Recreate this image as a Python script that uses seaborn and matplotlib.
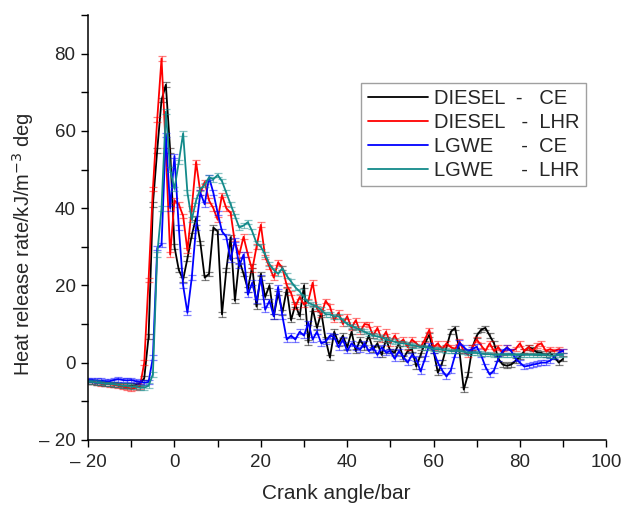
import numpy as np
import pandas as pd
import matplotlib
matplotlib.use("Agg")
import matplotlib.pyplot as plt
import seaborn as sns
from matplotlib.ticker import MultipleLocator, FixedLocator

# crank angle, one point per degree
crank_angle = list(range(-20, 91))

diesel_ce = [
    -5, -5, -5.2, -5.3, -5.5, -5.5, -5.6, -5.8, -6, -6, -6, -5.8, -5.5,      # -20..-8
    -4, 6.7, 41, 55, 68, 72, 55,                                              # -7..-1
    30, 24, 21.5, 27, 33, 37.5, 31, 22, 23, 35,                               # 0..9
    34, 12.5, 24, 32.5, 16, 26.5, 23, 19, 25, 14.5,                           # 10..19
    23, 17, 20, 12, 18, 13, 19, 11, 15, 12,                                   # 20..29
    20, 5.2, 14, 9, 13, 6, 1.3, 8, 5, 7,                                      # 30..39
    4, 8, 3, 6, 4, 7, 3.4, 5, 2, 6,                                           # 40..49
    3, 2.6, 5, 1, 3, 3.4, -1, 2, 5, 7.2,                                      # 50..59
    3, -2.6, 0, 4, 8, 9, 3, -7, -3, 4,                                        # 60..69
    7, 8.5, 9, 7, 5, 1, -0.5, -0.8, -0.5, 0.5,                                # 70..79
    1.5, 3, 4, 3.5, 2.6, 2.5, 2, 2.5, 1.5, 0, 1,                              # 80..90
]

diesel_lhr = [
    -5, -5, -5.2, -5.5, -5.5, -5.6, -5.8, -6, -6.2, -6.5, -6.8, -6.5, -6.2,  # -20..-8
    0, 21.4, 45, 63, 78.8, 55, 28,                                            # -7..-1
    42, 41, 38, 29, 40, 52, 44, 46.8, 42, 40,                                 # 0..9
    37, 43.4, 40, 38.8, 31, 28, 32.6, 28, 24, 30,                             # 10..19
    35.7, 27.4, 24.8, 22, 26, 24.5, 20, 18, 14.5, 17,                         # 20..29
    15, 16, 20.7, 14, 12.4, 16, 14.5, 11, 13, 10,                             # 30..39
    12, 9, 11, 8, 10, 9.8, 7, 9, 6, 8,                                        # 40..49
    5, 7, 5, 6, 4, 6, 5, 4, 6, 8.5,                                           # 50..59
    4, 5, 3.5, 5, 4, 3.5, 5.5, 3, 2, 4,                                       # 60..69
    6, 4.5, 3, 5, 3, 4, 2.5, 4, 3, 3.5,                                       # 70..79
    5, 3, 4, 3, 4.5, 5, 3, 3.5, 3, 3.5, 3,                                    # 80..90
]

lgwe_ce = [
    -4.5, -4.5, -4.6, -4.7, -4.8, -4.8, -4.5, -4.3, -4.5, -4.6, -4.5, -4.8, -5, -5.2,  # -20..-7
    -5, 1.3, 29.7, 30.5, 59, 40,                                              # -6..-1
    53.5, 35, 20, 12.9, 22, 35, 44, 41, 48, 44,                               # 0..9
    38.8, 34, 32.6, 26.6, 31.8, 25, 28, 17.6, 20.7, 16,                       # 10..19
    22, 13.7, 16, 12, 19.6, 12, 6, 7, 6, 8,                                   # 20..29
    7, 10.3, 6, 8, 5, 5.4, 7, 6.7, 4, 6,                                      # 30..39
    3, 5, 4, 3.4, 5, 3, 4, 2, 4, 2.6,                                         # 40..49
    3, 1, 3, 1.5, 0, 2, 1, -2.3, 1, 4.6,                                      # 50..59
    3, 0, -2, -3.6, -2, 2, 5.2, 4, 3, 3.5,                                    # 60..69
    4.1, 2, -1, -3.1, -2, 1, 3, 3.9, 3, 1,                                    # 70..79
    0, -1, -0.8, -0.5, -0.3, 0, 0, 0.5, 1.5, 2.6, 3,                          # 80..90
]

lgwe_lhr = [
    -5, -5, -5.2, -5.3, -5.5, -5.5, -5.6, -5.8, -6, -6, -6.2, -6.3, -6.5, -6.5, -6,  # -20..-6
    -3, 28, 40, 65, 50,                                                       # -5..-1
    45, 52, 59.4, 44, 37, 42, 45, 46, 48, 47.5,                               # 0..9
    48.6, 47, 44, 41, 38, 35, 35.5, 36.4, 34, 31,                             # 10..19
    30, 28, 25.5, 24, 23, 24.5, 22.5, 21, 19.5, 18.4,                         # 20..29
    17, 15.5, 15, 14.5, 13.7, 12.5, 12.5, 12, 12, 11,                         # 30..39
    10, 9.5, 9, 8.5, 8, 7.5, 7, 6.8, 6.5, 6,                                  # 40..49
    5.7, 5.4, 5, 5, 4.8, 4.5, 4.3, 4, 4, 3.8,                                 # 50..59
    3.5, 3.5, 3.3, 3.2, 3, 3, 3, 2.8, 2.5, 2.5,                               # 60..69
    2.5, 2.3, 2.2, 2.2, 2, 2, 2, 2, 2, 2,                                     # 70..79
    2, 2, 2, 2, 2, 2, 2, 1.8, 1.8, 2, 2,                                      # 80..90
]

series_names = ["DIESEL  -   CE", "DIESEL   -  LHR", "LGWE     -  CE", "LGWE     -  LHR"]
series_colors = ["#000000", "#ff0000", "#0000ff", "#138a8a"]

frames = []
for name, vals in zip(series_names, [diesel_ce, diesel_lhr, lgwe_ce, lgwe_lhr]):
    frames.append(pd.DataFrame({"angle": crank_angle, "hrr": vals, "fuel": name}))
df = pd.concat(frames, ignore_index=True)

sns.set_style("ticks")
plt.rcParams["font.family"] = ["Liberation Sans", "DejaVu Sans"]

fig = plt.figure(figsize=(6.25, 5.05), dpi=100)
ax = fig.add_axes([0.141, 0.129, 0.829, 0.841])

for name, col in zip(series_names, series_colors):
    sub = df[df["fuel"] == name]
    ax.errorbar(sub["angle"], sub["hrr"], yerr=0.6, fmt="none",
                ecolor=col, alpha=0.5, capsize=3, elinewidth=0.8, capthick=0.9)
    sns.lineplot(data=sub, x="angle", y="hrr", color=col, lw=1.3,
                 label=name, ax=ax, sort=False, estimator=None)

ax.set_xlim(-20, 100)
ax.set_ylim(-20, 90)
ax.xaxis.set_major_locator(FixedLocator([-20, 0, 20, 40, 60, 80, 100]))
ax.set_xticklabels(["\u2013 20", "0", "20", "40", "60", "80", "100"])
ax.yaxis.set_major_locator(FixedLocator([-20, 0, 20, 40, 60, 80]))
ax.set_yticklabels(["\u2013 20", "0", "20", "40", "60", "80"])
ax.xaxis.set_minor_locator(MultipleLocator(10))
ax.yaxis.set_minor_locator(MultipleLocator(10))
ax.tick_params(which="both", direction="out", length=5, width=1, labelsize=13.5, color="black")
ax.tick_params(axis="x", which="major", pad=5)
ax.tick_params(axis="y", which="major", pad=4)

for s in ["left", "bottom"]:
    ax.spines[s].set_linewidth(1.1)
    ax.spines[s].set_color("black")
sns.despine(ax=ax)

ax.set_xlabel("Crank angle/bar", fontsize=15)
ax.set_ylabel("Heat release rate/kJ/m$^{-3}$ deg", fontsize=14.5)
ax.xaxis.set_label_coords(0.478, -0.105)
ax.yaxis.set_label_coords(-0.100, 0.46)

leg = ax.legend(loc="upper right", bbox_to_anchor=(0.96, 0.84), fontsize=14.5,
                frameon=True, fancybox=False, handlelength=3.0, handletextpad=0.3,
                borderpad=0.3, labelspacing=0.25, borderaxespad=0)
leg.get_frame().set_edgecolor("#888888")
leg.get_frame().set_linewidth(1.0)

fig.savefig("out.png", dpi=100)
